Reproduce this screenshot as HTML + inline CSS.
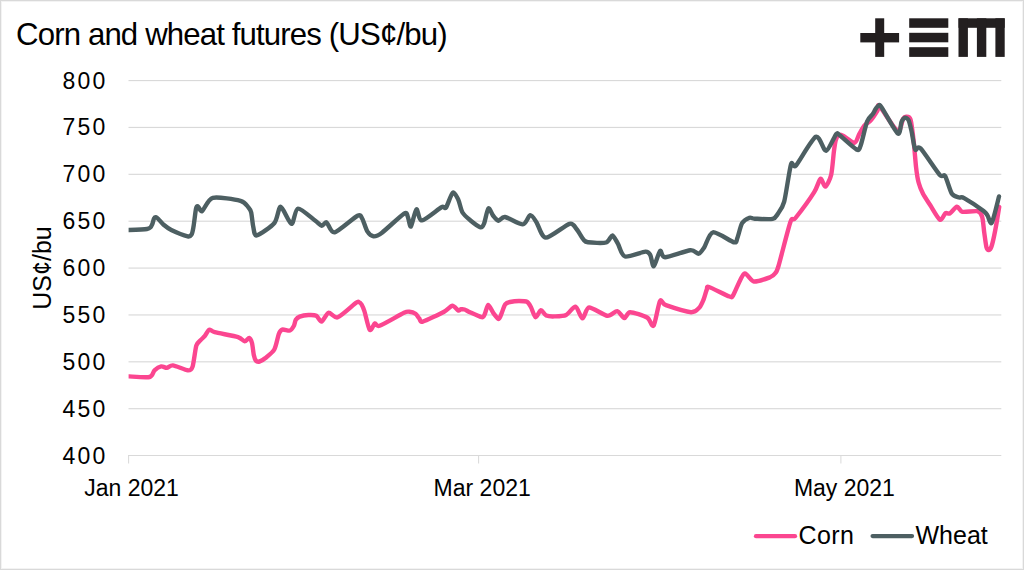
<!DOCTYPE html>
<html><head><meta charset="utf-8"><style>
html,body{margin:0;padding:0;background:#fff;}
body{width:1024px;height:570px;position:relative;overflow:hidden;font-family:"Liberation Sans",sans-serif;color:#000;}
.frame{position:absolute;left:0;top:0;width:1022px;height:568px;border:1px solid #d9d9d9;}
.frame2{position:absolute;left:1px;top:1px;width:1020px;height:566px;border:1px solid #f3f3f3;}
.title{position:absolute;left:16px;top:16.7px;font-size:31.2px;letter-spacing:-0.87px;white-space:nowrap;line-height:36px;}
.yl{position:absolute;right:918.8px;width:60px;text-align:right;font-size:23px;line-height:26px;letter-spacing:2.2px;margin-right:-2.2px;white-space:nowrap;}
.xl{position:absolute;top:473.6px;font-size:23px;line-height:28px;white-space:nowrap;transform:translateX(-50%);}
.ylab{position:absolute;left:41.6px;top:268px;font-size:25px;line-height:28px;white-space:nowrap;transform:translate(-50%,-50%) rotate(-90deg);}
.leg{position:absolute;top:519.8px;font-size:25px;line-height:30px;white-space:nowrap;}
svg{position:absolute;left:0;top:0;}
</style></head><body>
<div class="frame"></div><div class="frame2"></div>
<div class="title">Corn and wheat futures (US¢/bu)</div>
<div class="yl" style="top:442.5px">400</div><div class="yl" style="top:395.6px">450</div><div class="yl" style="top:348.8px">500</div><div class="yl" style="top:301.9px">550</div><div class="yl" style="top:255.0px">600</div><div class="yl" style="top:208.1px">650</div><div class="yl" style="top:161.2px">700</div><div class="yl" style="top:114.4px">750</div><div class="yl" style="top:67.5px">800</div>
<div class="xl" style="left:131.5px">Jan 2021</div>
<div class="xl" style="left:482.2px">Mar 2021</div>
<div class="xl" style="left:844.4px">May 2021</div>
<div class="ylab">US¢/bu</div>
<svg width="1024" height="570" viewBox="0 0 1024 570">
<defs><clipPath id="pc"><rect x="128.6" y="0" width="900" height="570"/></clipPath></defs>
<rect x="128.5" y="408.125" width="872.8" height="1.15" fill="#d9d9d9"/><rect x="128.5" y="361.250" width="872.8" height="1.15" fill="#d9d9d9"/><rect x="128.5" y="314.375" width="872.8" height="1.15" fill="#d9d9d9"/><rect x="128.5" y="267.500" width="872.8" height="1.15" fill="#d9d9d9"/><rect x="128.5" y="220.625" width="872.8" height="1.15" fill="#d9d9d9"/><rect x="128.5" y="173.750" width="872.8" height="1.15" fill="#d9d9d9"/><rect x="128.5" y="126.875" width="872.8" height="1.15" fill="#d9d9d9"/><rect x="128.5" y="80.000" width="872.8" height="1.15" fill="#d9d9d9"/><rect x="128" y="455" width="873.3" height="1" fill="#d9d9d9"/><rect x="128.1" y="455" width="1" height="8.5" fill="#d9d9d9"/><rect x="478.1" y="455" width="1" height="8.5" fill="#d9d9d9"/><rect x="840.4" y="455" width="1" height="8.5" fill="#d9d9d9"/>
<path d="M129.0,376.4 C131.7,376.5 146.3,377.8 149.6,377.0 C152.9,376.2 153.0,371.7 154.5,370.3 C156.0,368.9 159.6,366.7 161.2,366.4 C162.8,366.1 165.3,367.9 166.8,367.8 C168.3,367.7 170.2,365.1 172.9,365.4 C175.6,365.7 185.1,370.1 187.7,370.3 C190.3,370.5 191.5,369.8 192.6,366.6 C193.7,363.4 195.3,349.1 196.3,345.7 C197.3,342.3 199.5,341.5 200.6,340.2 C201.7,338.9 203.8,337.3 204.9,335.9 C206.0,334.5 207.9,330.2 209.2,329.7 C210.5,329.2 211.0,331.2 214.7,332.2 C218.4,333.2 234.1,335.9 238.0,337.1 C241.9,338.3 243.1,341.2 244.6,341.3 C246.1,341.4 248.2,337.8 249.2,338.0 C250.2,338.2 251.4,340.8 252.0,343.0 C252.6,345.2 253.3,352.7 253.8,355.0 C254.3,357.3 255.3,360.0 256.0,360.8 C256.7,361.6 258.3,361.8 259.5,361.5 C260.7,361.2 263.2,359.9 265.1,358.3 C267.0,356.7 272.5,352.7 274.3,349.5 C276.1,346.3 277.8,336.6 278.8,334.0 C279.8,331.4 280.7,330.1 282.2,329.6 C283.7,329.1 288.5,331.0 290.0,330.5 C291.5,330.0 293.0,327.4 293.8,326.0 C294.6,324.6 295.0,321.0 295.8,319.8 C296.6,318.6 298.1,317.2 299.7,316.6 C301.3,316.0 306.2,315.1 308.4,315.0 C310.6,314.9 314.6,314.8 316.3,315.7 C318.0,316.6 320.0,322.0 321.6,321.6 C323.2,321.2 326.4,313.4 328.5,312.8 C330.6,312.2 334.2,318.6 337.8,317.3 C341.4,316.0 353.3,304.8 356.0,302.8 C358.7,300.8 358.0,301.8 358.7,302.0 C359.4,302.2 360.9,303.3 361.6,304.5 C362.3,305.7 363.3,307.8 364.4,311.1 C365.5,314.4 368.3,328.3 369.7,329.9 C371.1,331.5 373.6,323.9 374.9,323.4 C376.2,322.9 375.8,327.2 379.6,325.8 C383.4,324.4 400.1,314.6 404.0,312.8 C407.9,311.0 408.0,311.7 409.5,311.8 C411.0,311.9 414.2,312.9 415.5,313.8 C416.8,314.7 418.4,317.5 419.3,318.5 C420.2,319.5 419.6,322.5 422.8,321.6 C426.0,320.7 440.3,313.8 444.1,311.7 C447.9,309.6 450.5,306.0 452.3,305.8 C454.1,305.6 457.1,310.0 458.2,310.5 C459.3,311.0 460.2,309.4 461.0,309.3 C461.8,309.2 463.3,309.1 464.5,309.5 C465.7,309.9 467.8,311.3 470.0,312.3 C472.2,313.3 479.8,316.9 481.7,317.2 C483.6,317.5 483.9,315.9 484.7,314.3 C485.5,312.7 487.1,305.1 488.2,304.9 C489.3,304.7 492.0,311.3 493.4,313.1 C494.8,314.9 497.6,319.0 498.7,319.0 C499.8,319.0 500.9,315.0 501.7,313.1 C502.5,311.2 504.1,305.7 505.2,304.3 C506.3,302.9 508.2,302.4 510.0,302.0 C511.8,301.6 516.8,301.0 519.0,301.0 C521.2,301.0 525.4,301.0 527.0,301.8 C528.6,302.6 529.9,305.3 531.0,307.3 C532.1,309.3 534.3,316.8 535.6,317.2 C536.9,317.6 539.5,310.4 540.9,310.2 C542.3,310.0 544.4,314.7 546.2,315.5 C548.0,316.3 551.8,316.5 554.4,316.4 C557.0,316.3 563.4,316.2 566.1,314.9 C568.8,313.6 573.4,306.2 575.5,306.7 C577.6,307.2 580.7,318.3 582.5,318.4 C584.3,318.5 585.9,307.8 589.1,307.5 C592.3,307.2 603.6,315.3 607.3,315.8 C611.0,316.3 615.0,310.8 617.2,311.1 C619.4,311.4 622.6,318.0 624.3,318.1 C626.0,318.2 627.1,312.3 630.1,312.2 C633.1,312.1 644.0,315.8 647.1,317.5 C650.2,319.2 651.9,327.7 653.6,325.6 C655.3,323.5 658.4,303.8 660.0,301.1 C661.6,298.4 661.9,303.8 665.9,305.2 C669.9,306.6 686.6,311.9 691.0,312.2 C695.4,312.5 697.8,309.2 699.4,307.5 C701.0,305.8 702.6,301.8 703.6,299.5 C704.6,297.2 706.1,291.1 706.8,289.5 C707.5,287.9 706.0,286.1 709.0,287.0 C712.0,287.9 726.3,295.5 729.5,296.5 C732.7,297.5 731.4,298.0 733.3,295.0 C735.2,292.0 741.3,275.6 744.0,273.8 C746.7,272.0 750.6,281.0 754.0,281.5 C757.4,282.0 767.3,278.3 770.0,277.3 C772.7,276.3 773.9,275.0 775.0,273.5 C776.1,272.0 776.5,272.7 778.5,266.0 C780.5,259.3 788.3,228.0 790.5,221.8 C792.7,215.6 792.4,221.9 795.5,218.0 C798.6,214.1 811.0,197.2 814.2,192.1 C817.5,187.0 819.1,179.4 820.5,178.7 C821.9,178.0 823.9,187.1 825.3,186.6 C826.7,186.1 830.1,179.3 831.2,174.7 C832.3,170.1 833.3,156.0 833.9,151.5 C834.5,147.0 835.1,142.2 835.8,140.0 C836.5,137.8 838.1,135.3 839.0,134.8 C839.9,134.3 841.0,134.8 843.0,135.8 C845.0,136.8 852.4,143.1 854.5,142.8 C856.6,142.5 858.2,135.7 859.5,133.5 C860.8,131.3 863.0,127.3 864.5,125.5 C866.0,123.7 869.3,122.0 871.0,120.0 C872.7,118.0 876.4,112.3 877.5,110.5 C878.6,108.7 876.9,103.3 879.5,106.0 C882.1,108.7 894.4,129.3 897.5,131.0 C900.6,132.7 901.9,120.8 903.0,119.0 C904.1,117.2 905.3,116.7 906.3,116.8 C907.3,116.9 909.5,116.3 910.5,119.5 C911.5,122.7 913.0,135.4 913.7,141.6 C914.4,147.8 915.5,162.2 916.1,167.5 C916.7,172.8 917.7,179.1 918.6,182.5 C919.5,185.9 921.4,190.5 922.9,193.5 C924.4,196.5 928.1,201.9 930.3,205.3 C932.5,208.7 938.0,218.8 940.0,219.8 C942.0,220.8 944.2,213.8 945.5,213.0 C946.8,212.2 948.2,214.3 949.7,213.5 C951.2,212.7 955.3,207.0 957.0,206.8 C958.7,206.6 959.7,211.2 962.4,211.8 C965.1,212.4 974.9,210.5 977.5,211.2 C980.1,211.9 981.3,214.2 982.2,217.0 C983.1,219.8 983.7,229.0 984.3,233.0 C984.9,237.0 985.9,245.3 986.5,247.5 C987.1,249.7 988.1,250.1 988.8,250.0 C989.4,249.9 990.7,248.9 991.5,246.5 C992.3,244.1 994.0,236.7 995.0,231.5 C996.0,226.3 998.7,210.0 999.2,206.8" fill="none" stroke="#fb4690" stroke-width="4.4" stroke-linejoin="round" stroke-linecap="round" clip-path="url(#pc)"/>
<path d="M128.0,230.0 C130.5,229.9 144.1,229.4 147.0,229.0 C149.9,228.6 149.8,227.9 150.5,227.3 C151.2,226.7 151.8,225.3 152.3,224.2 C152.8,223.1 153.5,219.4 154.0,218.5 C154.5,217.6 155.3,217.1 155.9,217.2 C156.5,217.3 157.3,218.0 158.3,219.0 C159.3,220.0 161.9,223.3 163.6,224.7 C165.3,226.1 168.2,228.5 171.3,230.0 C174.4,231.5 185.1,235.7 187.7,236.3 C190.3,236.9 190.8,235.6 191.6,234.4 C192.4,233.2 192.9,230.0 193.5,226.7 C194.1,223.4 195.4,211.5 196.0,208.8 C196.6,206.1 197.1,205.9 197.9,206.2 C198.7,206.5 200.3,212.1 202.2,211.0 C204.1,209.9 207.8,199.1 212.8,197.8 C217.8,196.5 235.9,199.6 240.5,200.8 C245.1,202.0 246.9,205.7 248.3,207.2 C249.7,208.7 250.5,209.9 251.2,212.5 C251.8,215.1 252.6,224.0 253.3,227.0 C254.0,230.0 254.1,235.9 256.8,235.4 C259.5,234.9 271.3,226.7 274.4,223.0 C277.5,219.3 278.5,206.7 280.7,206.8 C282.9,206.9 289.3,223.7 291.5,223.9 C293.7,224.1 294.9,209.0 298.0,208.6 C301.1,208.2 311.9,218.3 315.0,220.5 C318.1,222.7 320.3,225.5 321.8,225.7 C323.3,225.9 324.9,221.5 326.6,222.4 C328.3,223.3 330.6,233.2 334.6,232.3 C338.6,231.4 353.9,217.5 357.5,215.7 C361.1,213.9 360.9,216.6 362.2,218.6 C363.5,220.6 365.8,229.1 367.3,231.4 C368.8,233.7 371.5,236.1 373.4,236.3 C375.3,236.5 378.0,235.7 382.0,232.7 C386.0,229.7 400.7,215.7 404.1,213.6 C407.5,211.5 406.9,215.0 407.8,216.7 C408.7,218.4 409.8,227.5 410.9,226.5 C412.0,225.5 415.0,210.1 416.4,209.3 C417.8,208.5 418.7,220.7 422.0,220.4 C425.3,220.1 438.4,208.9 441.5,207.2 C444.6,205.5 444.5,209.5 446.0,207.6 C447.5,205.7 451.1,193.8 452.7,192.7 C454.3,191.6 456.9,196.9 458.2,199.5 C459.5,202.1 460.9,209.8 462.5,212.5 C464.1,215.2 467.9,218.3 470.2,220.2 C472.5,222.1 478.7,226.9 480.5,227.3 C482.3,227.7 483.1,226.0 484.1,223.5 C485.1,221.0 487.2,209.4 488.4,208.4 C489.6,207.4 491.7,213.9 493.0,215.5 C494.3,217.1 496.9,220.6 498.5,220.8 C500.1,221.0 501.8,216.5 505.0,217.0 C508.2,217.5 519.5,224.6 522.8,224.4 C526.1,224.2 528.4,215.5 530.2,215.2 C532.0,214.9 534.3,219.0 536.3,221.9 C538.3,224.8 541.5,237.4 545.8,237.6 C550.1,237.8 565.5,224.9 569.5,223.8 C573.5,222.7 574.7,226.9 576.5,229.0 C578.3,231.1 582.0,237.9 583.5,239.6 C585.0,241.3 585.1,241.9 588.0,242.3 C590.9,242.7 602.9,243.4 606.1,242.5 C609.3,241.6 610.9,235.2 612.4,235.4 C613.9,235.6 616.4,241.2 618.0,243.9 C619.6,246.6 621.4,255.5 625.0,256.5 C628.6,257.5 642.1,251.8 645.4,251.6 C648.7,251.4 649.2,253.2 650.3,255.1 C651.4,257.0 652.5,266.8 653.8,266.3 C655.1,265.8 658.6,252.1 660.1,250.9 C661.6,249.7 661.1,257.3 665.0,257.2 C668.9,257.1 685.9,250.7 690.3,250.2 C694.7,249.7 696.9,254.1 698.7,253.7 C700.5,253.3 702.3,250.2 704.2,247.4 C706.1,244.6 709.1,233.0 713.0,232.3 C716.9,231.6 730.8,241.6 734.0,242.3 C737.2,243.0 736.3,240.4 737.4,237.9 C738.5,235.4 740.5,225.8 742.1,223.2 C743.7,220.6 747.9,218.4 749.5,217.8 C751.1,217.2 751.7,218.6 754.7,218.7 C757.7,218.8 769.6,219.6 772.6,218.9 C775.6,218.2 776.4,215.9 777.9,213.7 C779.4,211.5 782.5,208.0 784.2,201.6 C785.9,195.2 789.5,169.0 791.0,164.3 C792.5,159.6 792.8,169.1 796.0,165.5 C799.2,161.9 811.9,138.7 815.8,136.8 C819.7,134.9 823.4,151.2 826.1,150.8 C828.8,150.4 834.5,136.0 836.3,134.0 C838.1,132.0 837.4,133.6 840.0,135.6 C842.6,137.6 853.8,148.1 856.5,149.5 C859.2,150.9 859.1,149.6 860.5,146.0 C861.9,142.4 865.5,125.7 867.1,121.5 C868.7,117.3 871.7,115.6 872.8,114.0 C873.9,112.4 874.6,110.6 875.3,109.5 C876.0,108.4 877.6,106.1 878.4,105.8 C879.2,105.5 879.0,103.6 881.5,107.2 C884.0,110.8 895.2,131.6 897.8,133.5 C900.4,135.4 900.6,124.0 901.5,122.0 C902.4,120.0 903.8,118.1 904.7,117.8 C905.6,117.5 907.6,118.3 908.5,120.0 C909.4,121.7 910.6,127.2 911.5,131.0 C912.4,134.8 914.0,147.3 915.2,149.5 C916.4,151.7 917.3,145.0 920.5,148.3 C923.7,151.6 936.4,171.1 939.6,174.7 C942.8,178.3 943.5,173.5 945.1,176.0 C946.7,178.5 950.1,191.0 951.9,193.8 C953.7,196.6 957.6,196.9 959.2,197.5 C960.8,198.1 960.9,196.3 964.1,198.1 C967.3,199.9 980.6,208.7 983.6,211.0 C986.6,213.3 986.4,214.0 987.5,215.5 C988.6,217.0 990.3,225.2 991.8,222.7 C993.3,220.2 998.1,199.9 999.0,196.5" fill="none" stroke="#4d5f62" stroke-width="4.4" stroke-linejoin="round" stroke-linecap="round" clip-path="url(#pc)"/>
<line x1="756" y1="536.2" x2="795" y2="536.2" stroke="#fb4690" stroke-width="4.3" stroke-linecap="round"/>
<line x1="872.6" y1="536.1" x2="912" y2="536.1" stroke="#4d5f62" stroke-width="4.3" stroke-linecap="round"/>
<g fill="#231f20">
<rect x="860.3" y="33.0" width="38.8" height="9.4"/>
<rect x="875.2" y="18.3" width="9.0" height="38.6"/>
<rect x="909.2" y="18.3" width="39.1" height="9.5"/>
<rect x="909.2" y="32.8" width="39.1" height="9.5"/>
<rect x="909.2" y="47.2" width="39.1" height="9.7"/>
<rect x="958.5" y="18.3" width="46.2" height="9.5"/>
<rect x="958.5" y="18.3" width="9.4" height="38.6"/>
<rect x="976.9" y="18.3" width="9.4" height="38.6"/>
<rect x="995.4" y="18.3" width="9.3" height="38.6"/>
</g>
</svg>
<div class="leg" style="left:798.6px;letter-spacing:0.35px">Corn</div>
<div class="leg" style="left:915.5px">Wheat</div>
</body></html>
